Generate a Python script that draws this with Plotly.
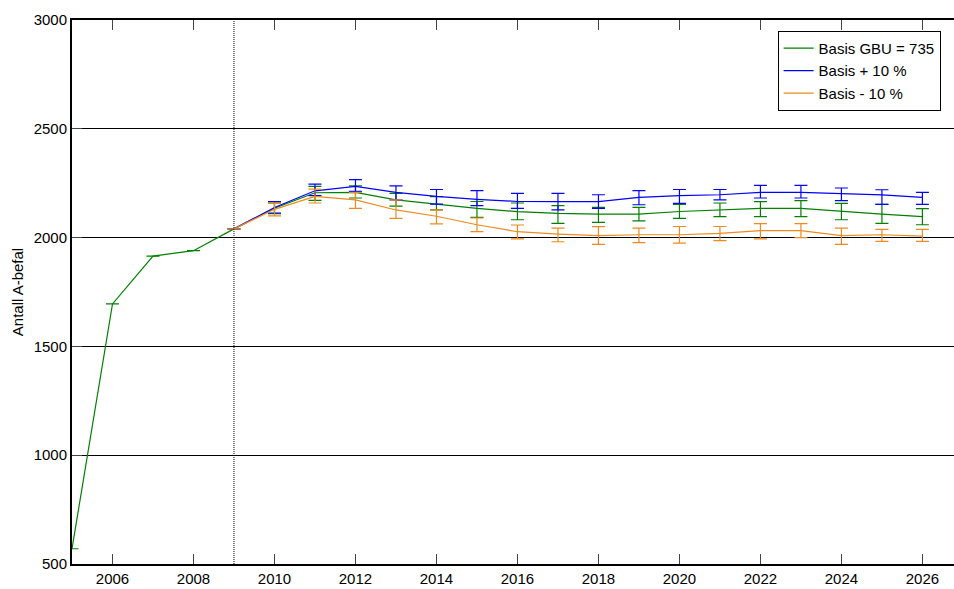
import plotly.graph_objects as go

years_green = list(range(2005, 2027))
green = [570, 1695, 1915, 1940, 2040, 2135, 2206, 2208, 2173, 2154, 2134, 2119, 2111, 2108, 2108, 2120, 2127, 2134, 2134, 2120, 2108, 2096]
green_hi = [570, 1695, 1915, 1940, 2040, 2160, 2235, 2238, 2203, 2188, 2166, 2159, 2147, 2139, 2139, 2153, 2159, 2165, 2170, 2157, 2153, 2133]
green_lo = [570, 1695, 1915, 1940, 2040, 2110, 2171, 2182, 2145, 2127, 2093, 2082, 2065, 2070, 2077, 2088, 2096, 2096, 2096, 2082, 2065, 2059]

years_scen = list(range(2009, 2027))
blue = [2040, 2138, 2215, 2235, 2208, 2189, 2176, 2166, 2165, 2165, 2185, 2193, 2197, 2208, 2208, 2203, 2196, 2185]
blue_hi = [2040, 2165, 2246, 2266, 2238, 2221, 2216, 2203, 2203, 2197, 2216, 2221, 2221, 2240, 2240, 2228, 2220, 2208]
blue_lo = [2040, 2113, 2193, 2212, 2173, 2154, 2147, 2134, 2127, 2134, 2151, 2157, 2173, 2182, 2182, 2170, 2153, 2153]

orange = [2040, 2130, 2189, 2173, 2127, 2098, 2059, 2027, 2016, 2009, 2013, 2013, 2019, 2032, 2032, 2009, 2013, 2007]
orange_hi = [2040, 2160, 2223, 2208, 2173, 2127, 2090, 2058, 2044, 2050, 2044, 2051, 2051, 2064, 2064, 2044, 2038, 2038]
orange_lo = [2040, 2100, 2159, 2134, 2088, 2063, 2027, 1994, 1981, 1969, 1977, 1975, 1986, 1994, 2000, 1969, 1983, 1983]

names = ["Basis GBU = 735", "Basis + 10 %", "Basis - 10 %"]
colors = ["#008000", "#0000FF", "#EE8A1E"]

x_ticks = list(range(2006, 2027, 2))
y_ticks = [500, 1000, 1500, 2000, 2500, 3000]

fig = go.Figure()

series = [
    (years_green, green, green_hi, green_lo),
    (years_scen, blue, blue_hi, blue_lo),
    (years_scen, orange, orange_hi, orange_lo),
]
for (xs, ys, hi, lo), name, col in zip(series, names, colors):
    fig.add_trace(go.Scatter(
        x=xs, y=ys, mode="lines", name=name,
        line=dict(color=col, width=1.2),
        error_y=dict(type="data", symmetric=False,
                     array=[h - v for h, v in zip(hi, ys)],
                     arrayminus=[v - l for v, l in zip(ys, lo)],
                     color=col, thickness=1.2, width=6.5),
    ))

fig.add_shape(type="line", xref="x", yref="paper", x0=2009, x1=2009, y0=0, y1=1,
              line=dict(color="black", width=1, dash="1px,1px"))

fig.update_layout(
    width=954, height=589,
    margin=dict(l=72, r=0, t=20, b=25),
    paper_bgcolor="white", plot_bgcolor="white",
    font=dict(family="Liberation Sans, Arial, sans-serif", size=15, color="black"),
    showlegend=True,
    legend=dict(x=0.8, y=0.98, xanchor="left", yanchor="top",
                bordercolor="black", borderwidth=1, bgcolor="white",
                font=dict(size=15)),
    xaxis=dict(range=[2005, 2026.78], tickvals=x_ticks, ticks="inside", ticklen=10,
               tickcolor="#444", showline=True, linecolor="black", linewidth=2,
               mirror="ticks", showgrid=False, zeroline=False,
               tickfont=dict(size=15)),
    yaxis=dict(range=[500, 3000], tickvals=y_ticks, ticks="inside", ticklen=10,
               tickcolor="#444", showline=True, linecolor="black", linewidth=2,
               showgrid=True, gridcolor="black", gridwidth=1, zeroline=False,
               title=dict(text="Antall A-befal", font=dict(size=15), standoff=6),
               tickfont=dict(size=15)),
)

fig.write_html("out.html")
